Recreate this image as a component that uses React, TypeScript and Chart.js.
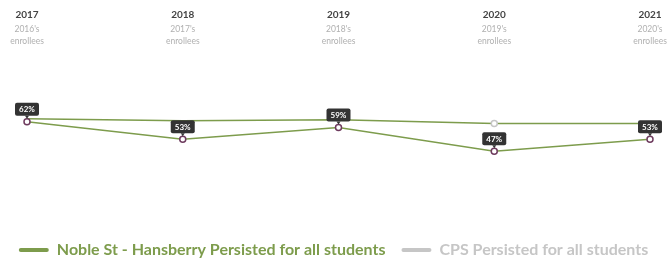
import React, { useEffect, useRef } from "react";
import { Chart, registerables } from "chart.js";

Chart.register(...registerables);

const years = ["2017", "2018", "2019", "2020", "2021"];
const cohortLabels = ["2016's", "2017's", "2018's", "2019's", "2020's"];
const nobleValues = [62, 53, 59, 47, 53];
const cpsValues = [63.5, 62.5, 63, 61, 61];
const nobleName = "Noble St - Hansberry Persisted for all students";
const cpsName = "CPS Persisted for all students";

const GREEN = "#7d9c4c";
const GREY = "#c6c6c6";
const FONT = "Lato, 'Open Sans', sans-serif";

const labelPlugin = {
  id: "valueBoxes",
  afterDatasetsDraw(chart: any) {
    const ctx = chart.ctx;
    const meta = chart.getDatasetMeta(0);
    ctx.save();
    ctx.font = `bold 8px ${FONT}`;
    meta.data.forEach((pt: any, i: number) => {
      const txt = `${nobleValues[i]}%`;
      const w = 24;
      const h = 13;
      const x = pt.x;
      const bottom = pt.y - 6;
      ctx.fillStyle = "#333333";
      ctx.beginPath();
      ctx.roundRect(x - w / 2, bottom - h, w, h, 2);
      ctx.fill();
      ctx.beginPath();
      ctx.moveTo(x - 2, bottom);
      ctx.lineTo(x + 2, bottom);
      ctx.lineTo(x, bottom + 3);
      ctx.closePath();
      ctx.fill();
      ctx.fillStyle = "#ffffff";
      ctx.textAlign = "center";
      ctx.textBaseline = "middle";
      ctx.fillText(txt, x, bottom - h / 2 + 0.5);
    });
    ctx.restore();
  },
};

export default function App() {
  const ref = useRef<HTMLCanvasElement | null>(null);

  useEffect(() => {
    document.body.style.margin = "0";
    const chart = new Chart(ref.current as HTMLCanvasElement, {
      type: "line",
      data: {
        labels: years,
        datasets: [
          {
            label: nobleName,
            data: nobleValues,
            borderColor: GREEN,
            backgroundColor: GREEN,
            borderWidth: 1.5,
            pointRadius: 3,
            pointBorderWidth: 1.5,
            pointBackgroundColor: "#ffffff",
            pointBorderColor: "#6e3b5e",
            tension: 0,
            xAxisID: "x",
          },
          {
            label: cpsName,
            data: cpsValues,
            borderColor: GREEN,
            backgroundColor: GREY,
            borderWidth: 1.5,
            pointRadius: [0, 0, 0, 3, 0],
            pointBorderWidth: 1.5,
            pointBackgroundColor: "#ffffff",
            pointBorderColor: GREY,
            tension: 0,
            xAxisID: "x",
          },
        ],
      },
      options: {
        animation: false,
        responsive: true,
        maintainAspectRatio: false,
        layout: { padding: { left: 0, right: 0, top: 7, bottom: -7 } },
        plugins: {
          tooltip: { enabled: false },
          legend: {
            position: "bottom",
            labels: {
              boxWidth: 30,
              boxHeight: 4,
              padding: 16,
              useBorderRadius: true,
              borderRadius: 2,
              font: { family: FONT, size: 16, weight: "bold" },
              generateLabels: () => [
                {
                  text: nobleName,
                  fillStyle: GREEN,
                  strokeStyle: GREEN,
                  lineWidth: 0,
                  fontColor: GREEN,
                  datasetIndex: 0,
                  borderRadius: 2,
                } as any,
                {
                  text: cpsName,
                  fillStyle: GREY,
                  strokeStyle: GREY,
                  lineWidth: 0,
                  fontColor: GREY,
                  datasetIndex: 1,
                  borderRadius: 2,
                } as any,
              ],
            },
          },
        },
        scales: {
          x: {
            position: "top",
            offset: false,
            weight: 2,
            grid: { display: false, drawTicks: false },
            border: { display: false },
            ticks: {
              color: "#444444",
              font: { family: FONT, size: 10, weight: "bold" },
              padding: 2,
              maxRotation: 0,
              autoSkip: false,
            },
          },
          x2: {
            type: "category",
            labels: cohortLabels.map((c) => [c, "enrollees"]) as any,
            position: "top",
            offset: false,
            weight: 1,
            grid: { display: false, drawTicks: false },
            border: { display: false },
            ticks: {
              color: "#b0b0b0",
              font: { family: FONT, size: 8.5, lineHeight: 1.4 },
              padding: 0,
              maxRotation: 0,
              autoSkip: false,
            },
          },
          y: {
            display: true,
            position: "left",
            min: 9,
            max: 100,
            grid: { display: false, drawTicks: false },
            border: { display: false },
            ticks: { display: false },
            afterFit: (s: any) => {
              s.width = 27;
            },
          },
          y2: {
            display: true,
            position: "right",
            min: 9,
            max: 100,
            grid: { display: false, drawTicks: false },
            border: { display: false },
            ticks: { display: false },
            afterFit: (s: any) => {
              s.width = 17;
            },
          },
        },
      } as any,
      plugins: [labelPlugin],
    });
    return () => chart.destroy();
  }, []);

  return (
    <div style={{ width: 667, height: 261, position: "relative" }}>
      <canvas ref={ref} />
    </div>
  );
}
